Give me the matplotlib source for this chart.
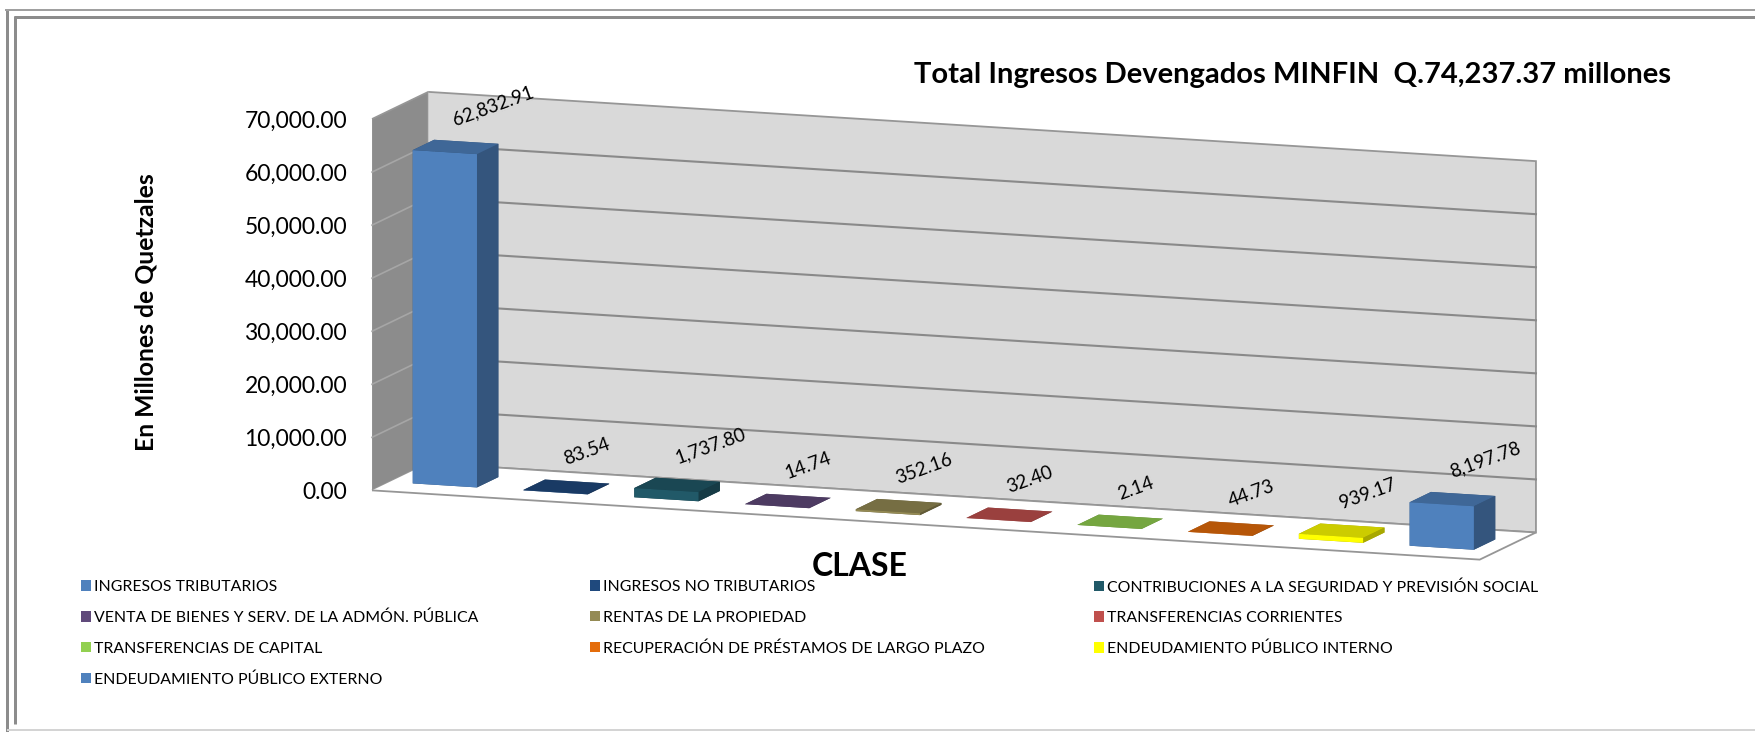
import numpy as np
import matplotlib
matplotlib.use('Agg')
import matplotlib.pyplot as plt
import matplotlib.transforms as mtransforms
from matplotlib.patches import Patch
from matplotlib.lines import Line2D
from matplotlib.colors import to_rgb

plt.rcParams['font.family'] = ['Lato', 'DejaVu Sans']

# data
categories = [
    'INGRESOS TRIBUTARIOS',
    'INGRESOS NO TRIBUTARIOS',
    'CONTRIBUCIONES A LA SEGURIDAD Y PREVISIÓN SOCIAL',
    'VENTA DE BIENES Y SERV. DE LA ADMÓN. PÚBLICA',
    'RENTAS DE LA PROPIEDAD',
    'TRANSFERENCIAS CORRIENTES',
    'TRANSFERENCIAS DE CAPITAL',
    'RECUPERACIÓN DE PRÉSTAMOS DE LARGO PLAZO',
    'ENDEUDAMIENTO PÚBLICO INTERNO',
    'ENDEUDAMIENTO PÚBLICO EXTERNO',
]
values = [62832.91, 83.54, 1737.80, 14.74, 352.16, 32.40, 2.14, 44.73, 939.17, 8197.78]
colors = ['#4F81BD', '#1F497D', '#215968', '#604A7B', '#948A54',
          '#C0504D', '#92D050', '#E46C0A', '#FFFF00', '#4F81BD']
zticks = [0, 10000, 20000, 30000, 40000, 50000, 60000, 70000]
title = 'Total Ingresos Devengados MINFIN  Q.74,237.37 millones'
ylabel = 'En Millones de Quetzales'
xlabel = 'CLASE'

W, H = 1756, 732
fig = plt.figure(figsize=(W / 100, H / 100), dpi=100)
ax = fig.add_axes([0, 0, 1, 1], projection='3d')
ax.patch.set_visible(False)
ax.set_proj_type('ortho')
ax.view_init(elev=10, azim=-70.2)
ax.set_box_aspect((1177, 166, 377))

n = len(values)
bw, bd, by = 0.58, 0.38, 0.31
face_cols = []
for c in colors:
    base = np.array(to_rgb(c))
    top, side = base * 0.8, base * 0.66
    # order: bottom, top, front, back, left, right
    face_cols += [side, top, base, side, side, side]
ax.bar3d(np.arange(n) + 0.5 - bw / 2, np.full(n, by), np.zeros(n),
         bw, bd, values, color=face_cols, shade=False)

ax.set_xlim(0, n)
ax.set_ylim(0, 1)
ax.set_zlim(zticks[0], zticks[-1])

# walls / floor
ax.xaxis.set_pane_color('#8c8c8c')
ax.yaxis.set_pane_color('#d9d9d9')
ax.zaxis.set_pane_color('#ffffff')
for a in (ax.xaxis, ax.yaxis, ax.zaxis):
    a.pane.set_edgecolor('#969696')
    a.pane.set_linewidth(1.3)
    a.line.set_color((0, 0, 0, 0))
    a.set_ticks([])
ax.grid(False)

x0, x1 = ax.get_xlim()
y0, y1 = ax.get_ylim()
z0, z1 = ax.get_zlim()
for z in zticks[1:-1]:
    ax.plot([x0, x0], [y0, y1], [z, z], color='#a6a6a6', lw=1.2)
    ax.plot([x0, x1], [y1, y1], [z, z], color='#8a8a8a', lw=1.5)

# place the 3D box so its corners land where the reference has them
fig.canvas.draw()
M = ax.M


def frac(x, y, z):
    v = M @ np.array([x, y, z, 1.0])
    d = ax.transData.transform((v[0] / v[3], v[1] / v[3]))
    return ax.transAxes.inverted().transform(d)


corners = [(x0, y0, z0), (x1, y0, z0), (x0, y1, z1), (x1, y1, z1)]
targets = [(372, 490), (1480, 559), (428, 92), (1536, 162)]
A, b = [], []
for c, t in zip(corners, targets):
    f = frac(*c)
    A.append([f[0], 1, 0]); b.append(t[0])
    A.append([f[1], 0, 1]); b.append(H - t[1])
S, X0, Y0 = np.linalg.lstsq(np.array(A), np.array(b), rcond=None)[0]
ax.set_position([X0 / W, Y0 / H, S / W, S / H])

# tick labels, at the front-left edge of the side wall
tick_tr = mtransforms.offset_copy(ax.transAxes, fig, x=-25, y=-2, units='dots')
for z in zticks:
    fx, fy = frac(x0, y0, z)
    ax.text2D(fx, fy, f'{z:,.2f}', transform=tick_tr, ha='right', va='center',
              fontsize=16.5)

# data labels above each bar
lab_tr = mtransforms.offset_copy(ax.transAxes, fig, x=1, y=19, units='dots')
for i, v in enumerate(values):
    fx, fy = frac(i + 0.5, by + bd / 2, v)
    ax.text2D(fx, fy, f'{v:,.2f}', transform=lab_tr, rotation=20,
              rotation_mode='anchor', ha='left', va='bottom', fontsize=13.5)

# titles
fig.text(1293 / W, 1 - 75 / H, title, ha='center', va='center',
         fontsize=21, fontweight='bold')
fig.text(146 / W, 1 - 312 / H, ylabel, rotation=90, ha='center', va='center',
         fontsize=17.8, fontweight='bold')
fig.text(860 / W, 1 - 567 / H, xlabel, ha='center', va='center',
         fontsize=23, fontweight='bold')

# legend, filled row by row in 3 columns
handles = [Patch(facecolor=c, edgecolor='none') for c in colors]
col_x = [81, 590, 1094]
for k in range(3):
    idx = list(range(k, n, 3))
    fig.legend([handles[i] for i in idx], [categories[i] for i in idx],
               loc='upper left', bbox_to_anchor=(col_x[k] / W, 1 - 580 / H),
               frameon=False, fontsize=11.4, handlelength=0.63, handleheight=0.63,
               handletextpad=0.22, labelspacing=1.05, borderpad=0, borderaxespad=0)


# picture frame
def px_line(xs, ys, color, lw):
    fig.add_artist(Line2D([x / W for x in xs], [1 - y / H for y in ys],
                          color=color, lw=lw / 1.389, solid_capstyle='butt'))


px_line([7, 7], [9, 732], '#8c8c8c', 3)
px_line([5, W], [10, 10], '#a0a0a0', 2)
px_line([15, 15], [16, 724], '#8c8c8c', 3)
px_line([14, W], [17, 17], '#8c8c8c', 3)
px_line([7, W], [730, 730], '#d4d4d4', 2)

fig.savefig('out.png', dpi=100)
